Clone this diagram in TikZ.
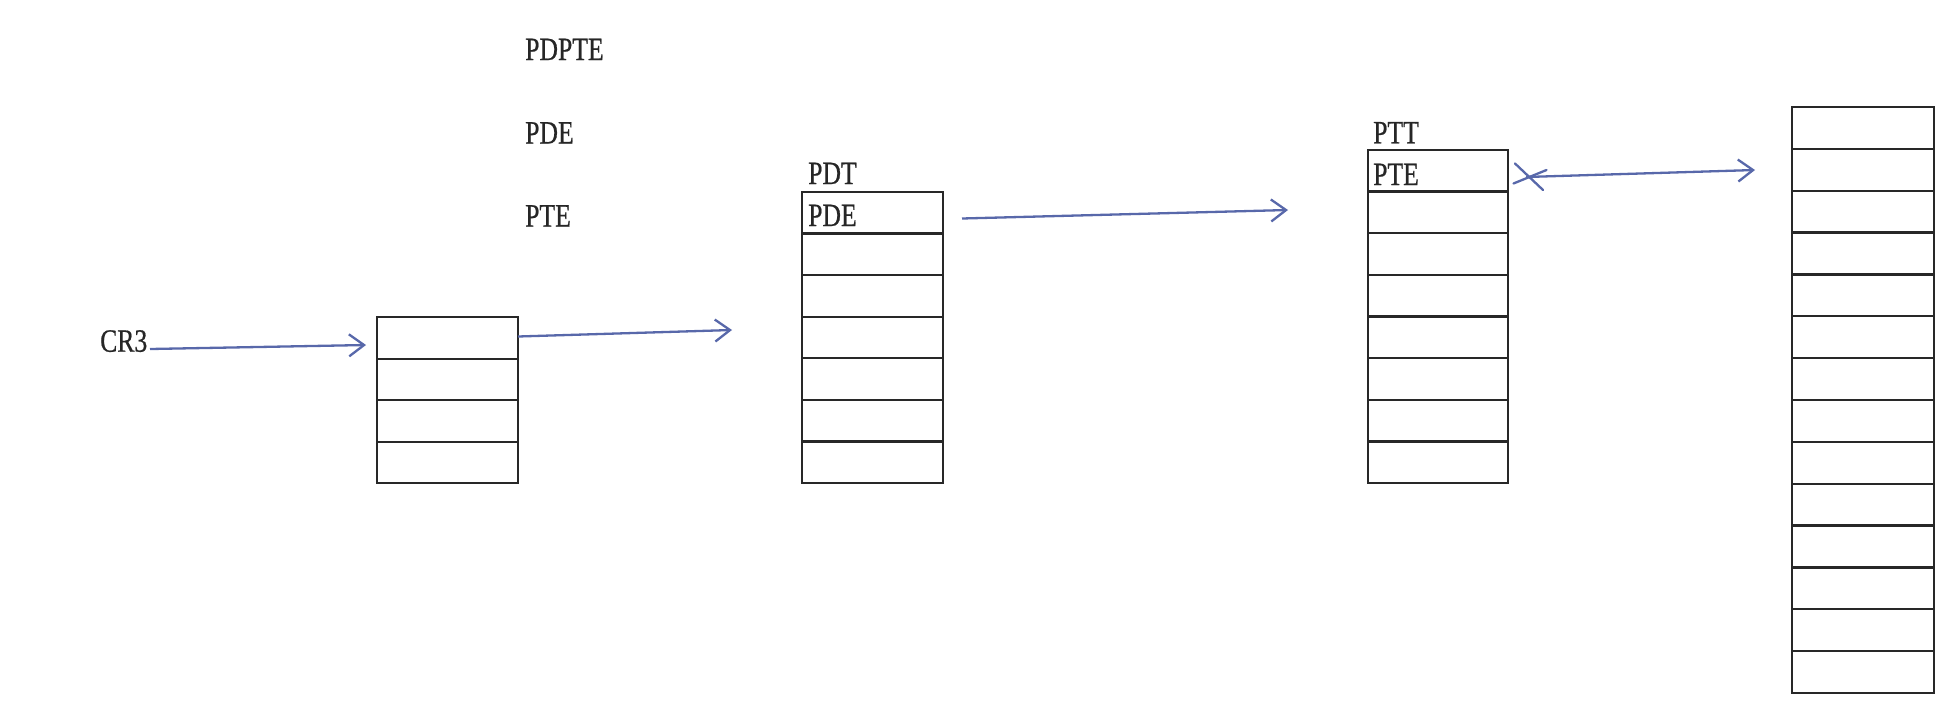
\documentclass[tikz,border=0pt]{standalone}
\usepackage{fontspec}
\setmainfont{Liberation Serif}[FakeStretch=0.79,FakeBold=0.6]
\usetikzlibrary{arrows.meta,calc}
\definecolor{arrowblue}{RGB}{88,104,170}
\definecolor{tblgray}{RGB}{40,40,40}
\tikzset{
  tbl/.style={draw=tblgray, line width=2.3pt, rectangle, inner sep=0pt, outer sep=0pt, anchor=north west},
  rowline/.style={draw=tblgray, line width=2.3pt},
  lbl/.style={inner sep=0pt, anchor=base west, text=black!85, font=\fontsize{32.5}{36}\selectfont},
  link/.style={draw=arrowblue, line width=2.3pt, -{Straight Barb[length=15pt,width=22pt,line width=2.3pt]}},
  cross/.style={draw=arrowblue, line width=2.3pt, line cap=round}
}
\newcommand{\rowlines}[2]{%
  \foreach \i in {1,...,#2}{%
    \pgfmathsetmacro{\f}{\i/(#2+1)}
    \draw[rowline] ($(#1.north west)!\f!(#1.south west)$) -- ($(#1.north east)!\f!(#1.south east)$);
  }%
}
\begin{document}
\begin{tikzpicture}[x=1pt,y=-1pt]
\useasboundingbox[fill=white] (0,0) rectangle (1958,718);

% legend labels
\node[lbl] (lpdpte) at (525,60) {PDPTE};
\node[lbl] (lpde) at (525,143.5) {PDE};
\node[lbl] (lpte) at (525,226.5) {PTE};

% tables
\node[tbl, minimum width=141pt, minimum height=166pt] (t1) at (377,317.3) {};
\rowlines{t1}{3}
\node[tbl, minimum width=141pt, minimum height=291.6pt] (pdt) at (802,191.7) {};
\rowlines{pdt}{6}
\node[tbl, minimum width=140pt, minimum height=333pt] (ptt) at (1368,150) {};
\rowlines{ptt}{7}
\node[tbl, minimum width=142pt, minimum height=586pt] (mem) at (1792,107) {};
\rowlines{mem}{13}

% labels
\node[lbl] (cr3) at (100,351.7) {CR3};
\node[lbl] (lpdt) at (808,184) {PDT};
\node[lbl] (lpdein) at (808,226) {PDE};
\node[lbl] (lptt) at (1373,143.3) {PTT};
\node[lbl] (lptein) at (1373,185) {PTE};

% arrow coordinates
\coordinate (a1s) at (150,349);
\coordinate (a1e) at (366,345);
\coordinate (a2s) at (518,336.5);
\coordinate (a2e) at (732,330);
\coordinate (a3s) at (962,218.5);
\coordinate (a3e) at (1288,210);
\coordinate (a4s) at (1526,177);
\coordinate (a4e) at (1755,170);
\coordinate (x1a) at (1515,163.5);
\coordinate (x1b) at (1543,190);
\coordinate (x2a) at (1513.5,183.5);
\coordinate (x2b) at (1546.5,170);

\draw[link] (a1s) -- (a1e);
\draw[link] (a2s) -- (a2e);
\draw[link] (a3s) -- (a3e);
\draw[link] (a4s) -- (a4e);
\draw[cross] (x1a) -- (x1b);
\draw[cross] (x2a) -- (x2b);
\end{tikzpicture}
\end{document}
